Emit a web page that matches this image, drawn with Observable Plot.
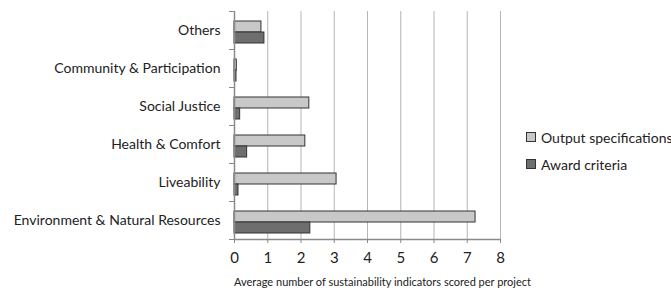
<!DOCTYPE html>
<html>
<head>
<meta charset="utf-8">
<script src="https://cdn.jsdelivr.net/npm/d3@7"></script>
<script src="https://cdn.jsdelivr.net/npm/@observablehq/plot@0.6"></script>
<style>
  html, body { margin: 0; padding: 0; background: #fff; }
  #wrap { position: relative; width: 671px; height: 293px; font-family: Lato, "Open Sans", sans-serif; }
  #legend { position: absolute; left: 526px; top: 128px; font-size: 14px; color: #222; white-space: nowrap; }
  #legend .item { display: flex; align-items: center; height: 18px; margin-bottom: 9px; }
  #legend .sw { width: 8px; height: 8px; border: 1px solid #333; margin-right: 5px; flex: none; }
</style>
</head>
<body>
<div id="wrap"></div>
<script>
const categories = ["Others", "Community & Participation", "Social Justice", "Health & Comfort", "Liveability", "Environment & Natural Resources"];
const outputSpecifications = [0.81, 0.07, 2.25, 2.13, 3.07, 7.25];
const awardCriteria = [0.9, 0.06, 0.17, 0.38, 0.12, 2.28];
const seriesNames = ["Output specifications", "Award criteria"];
const seriesColors = ["#c8c8c8", "#6e6e6e"];
const xTicks = [0, 1, 2, 3, 4, 5, 6, 7, 8];

const outData = categories.map((c, i) => ({category: c, value: outputSpecifications[i]}));
const awdData = categories.map((c, i) => ({category: c, value: awardCriteria[i]}));

const chart = Plot.plot({
  width: 671,
  height: 293,
  marginLeft: 234,
  marginRight: 171,
  marginTop: 11,
  marginBottom: 54,
  style: {fontFamily: "Lato, 'Open Sans', sans-serif", background: "#fff", color: "#222"},
  x: {domain: [0, 8], ticks: xTicks, label: null},
  y: {domain: categories, padding: 0, label: null},
  marks: [
    Plot.gridX(xTicks.slice(1), {stroke: "#b5b5b5", strokeOpacity: 1, strokeWidth: 1}),
    Plot.barX(outData, {x: "value", y: "category", fill: seriesColors[0], stroke: "#333", strokeWidth: 1, insetTop: 10, insetBottom: 17}),
    Plot.barX(awdData, {x: "value", y: "category", fill: seriesColors[1], stroke: "#333", strokeWidth: 1, insetTop: 21, insetBottom: 6}),
    Plot.ruleX([0], {stroke: "#8a8a8a", strokeWidth: 1.5}),
    Plot.ruleY(categories, {y: d => d, dy: -19, x1: 0, x2: 0, insetLeft: -5, stroke: "#8a8a8a"}),
    Plot.ruleY(categories.slice(-1), {y: d => d, dy: 19, x1: 0, x2: 0, insetLeft: -5, stroke: "#8a8a8a"}),
    Plot.axisY({tickSize: 0, tickPadding: 14, fontSize: 14, label: null}),
    Plot.axisX({ticks: xTicks, tickSize: 4, tickPadding: 9, fontSize: 15, stroke: "#8a8a8a", label: null}),
    Plot.ruleY(categories.slice(-1), {y: d => d, dy: 19, x1: 0, x2: 8, stroke: "#8a8a8a", strokeWidth: 1.5}),
    Plot.text(["Average number of sustainability indicators scored per project"], {frameAnchor: "bottom", dy: 46, dx: 15, fontSize: 11, fill: "#222"})
  ]
});
const wrap = document.getElementById("wrap");
wrap.appendChild(chart);

const legend = document.createElement("div");
legend.id = "legend";
seriesNames.forEach((n, i) => {
  const item = document.createElement("div");
  item.className = "item";
  const sw = document.createElement("div");
  sw.className = "sw";
  sw.style.background = seriesColors[i];
  const t = document.createElement("span");
  t.textContent = n;
  item.appendChild(sw);
  item.appendChild(t);
  legend.appendChild(item);
});
wrap.appendChild(legend);
</script>
</body>
</html>
